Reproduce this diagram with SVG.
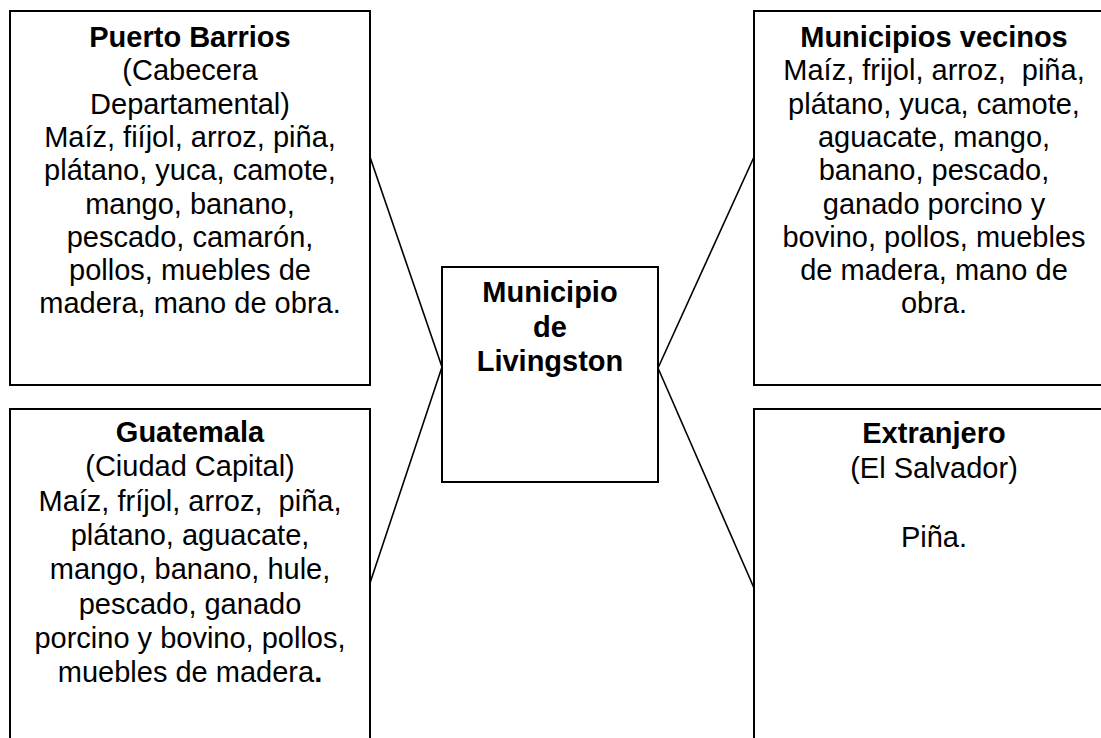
<svg xmlns="http://www.w3.org/2000/svg" width="1101" height="738" viewBox="0 0 1101 738">
<style>
.box{fill:#fff;stroke:#000;stroke-width:2}
.con{stroke:#000;stroke-width:1.6;fill:none}
text{font-family:"Liberation Sans",Arial,sans-serif;font-size:29px;fill:#000;text-anchor:middle;white-space:pre}
.b{font-weight:bold}
</style>
<rect width="1101" height="738" fill="#fff"/>
<g id="connectors">
<line class="con" x1="370" y1="157" x2="442" y2="367"/>
<line class="con" x1="370" y1="583" x2="442" y2="367"/>
<line class="con" x1="754" y1="157" x2="658" y2="368"/>
<line class="con" x1="754" y1="588" x2="658" y2="368"/>
</g>
<g id="puerto-barrios">
<rect class="box" x="10" y="11" width="360" height="374"/>
<text x="190" y="47"><tspan class="b">Puerto Barrios</tspan><tspan x="190" y="80.3">(Cabecera</tspan><tspan x="190" y="113.6">Departamental)</tspan><tspan x="190" y="146.9">Maíz, fiíjol, arroz, piña,</tspan><tspan x="190" y="180.2">plátano, yuca, camote,</tspan><tspan x="190" y="213.5">mango, banano,</tspan><tspan x="190" y="246.8">pescado, camarón,</tspan><tspan x="190" y="280.1">pollos, muebles de</tspan><tspan x="190" y="313.4">madera, mano de obra.</tspan></text>
</g>
<g id="municipios-vecinos">
<rect class="box" x="754" y="11" width="360" height="374"/>
<text x="934" y="47"><tspan class="b">Municipios vecinos</tspan><tspan x="934" y="80.3">Maíz, frijol, arroz,  piña,</tspan><tspan x="934" y="113.6">plátano, yuca, camote,</tspan><tspan x="934" y="146.9">aguacate, mango,</tspan><tspan x="934" y="180.2">banano, pescado,</tspan><tspan x="934" y="213.5">ganado porcino y</tspan><tspan x="934" y="246.8">bovino, pollos, muebles</tspan><tspan x="934" y="280.1">de madera, mano de</tspan><tspan x="934" y="313.4">obra.</tspan></text>
</g>
<g id="municipio-livingston">
<rect class="box" x="442" y="267" width="216" height="215"/>
<text class="b" x="550" y="302"><tspan>Municipio</tspan><tspan x="550" y="336.5">de</tspan><tspan x="550" y="371">Livingston</tspan></text>
</g>
<g id="guatemala">
<rect class="box" x="10" y="409" width="360" height="360"/>
<text x="190" y="442"><tspan class="b">Guatemala</tspan><tspan x="190" y="476.3">(Ciudad Capital)</tspan><tspan x="190" y="510.6">Maíz, fríjol, arroz,  piña,</tspan><tspan x="190" y="544.9">plátano, aguacate,</tspan><tspan x="190" y="579.2">mango, banano, hule,</tspan><tspan x="190" y="613.5">pescado, ganado</tspan><tspan x="190" y="647.8">porcino y bovino, pollos,</tspan><tspan x="190" y="682.1">muebles de madera<tspan class="b">.</tspan></tspan></text>
</g>
<g id="extranjero">
<rect class="box" x="754" y="409" width="360" height="360"/>
<text x="934" y="443"><tspan class="b">Extranjero</tspan><tspan x="934" y="477.5">(El Salvador)</tspan><tspan x="934" y="546.5">Piña.</tspan></text>
</g>
</svg>
